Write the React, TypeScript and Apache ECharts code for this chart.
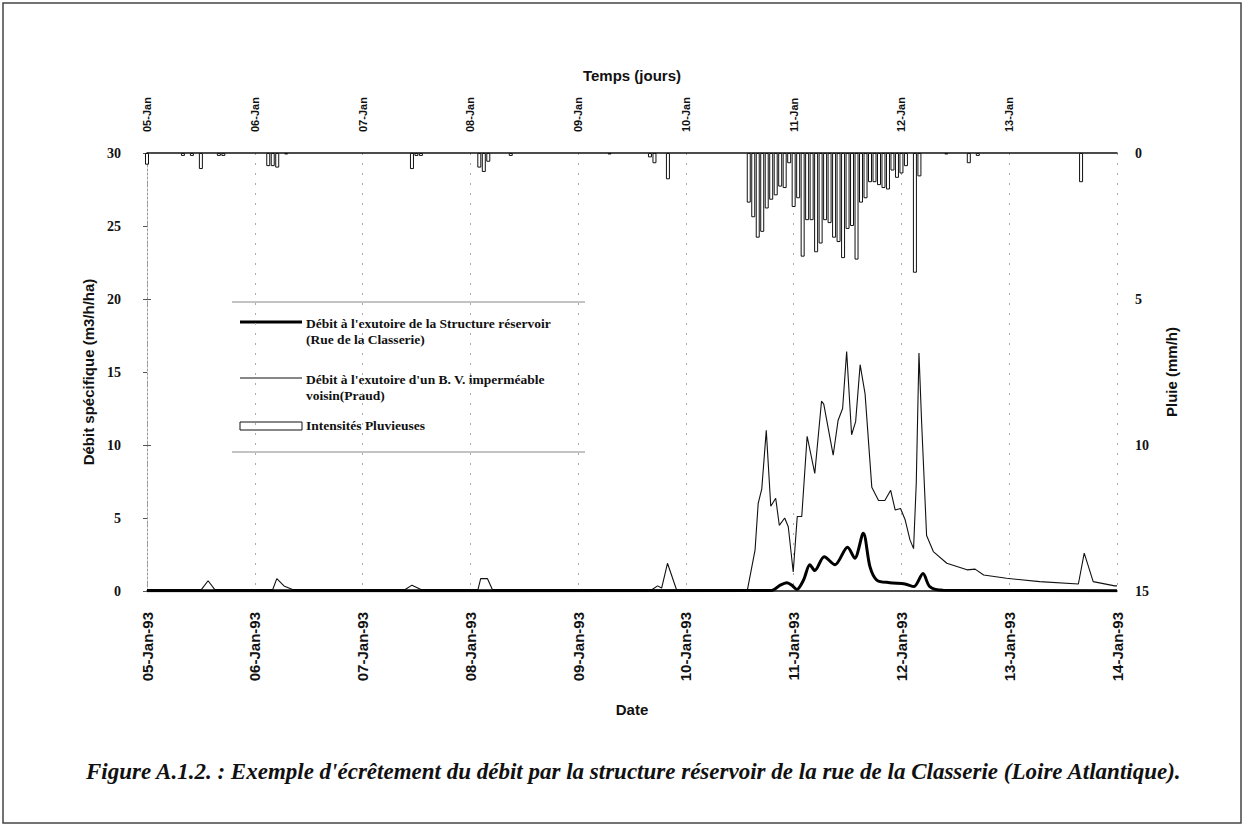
import React, { useEffect, useRef } from "react";
import * as echarts from "echarts";

// Tick labels (x positions in hours from 05-Jan-93 00:00)
const dateLabels = ["05-Jan-93", "06-Jan-93", "07-Jan-93", "08-Jan-93", "09-Jan-93", "10-Jan-93", "11-Jan-93", "12-Jan-93", "13-Jan-93", "14-Jan-93"];
const topLabels = ["05-Jan", "06-Jan", "07-Jan", "08-Jan", "09-Jan", "10-Jan", "11-Jan", "12-Jan", "13-Jan", ""];

// Débit à l'exutoire de la Structure réservoir (m3/h/ha) : [hour, value]
const reservoirFlow: [number, number][] = [
  [0, 0.02], [139.1, 0.03], [141, 0.4], [142.5, 0.57], [143.6, 0.4], [144.7, 0.1],
  [146.2, 0.75], [147.6, 1.8], [148.7, 1.4], [150.8, 2.35], [153.2, 1.8], [156.0, 3.0],
  [157.6, 2.25], [159.5, 3.95], [161.0, 1.65], [162.5, 0.75], [165.4, 0.57], [168.8, 0.48],
  [170.8, 0.3], [172.8, 1.2], [174.3, 0.3], [177.3, 0.05], [216, 0.02],
];

// Débit à l'exutoire d'un B. V. imperméable voisin (m3/h/ha) : [hour, value]
const imperviousFlow: [number, number][] = [
  [0, 0.1], [12.1, 0.1], [13.6, 0.7], [15.1, 0.1], [28.0, 0.1], [28.9, 0.85], [30.5, 0.35],
  [32.4, 0.1], [57.5, 0.1], [59.0, 0.4], [61.0, 0.1], [73.7, 0.1], [74.3, 0.85], [75.8, 0.85],
  [76.9, 0.1], [112.5, 0.1], [113.7, 0.35], [114.6, 0.2], [115.9, 1.9], [117.9, 0.1],
  [133.7, 0.07], [135.4, 2.8], [136.1, 6.0], [136.9, 7.0], [137.9, 11.0], [138.9, 5.8],
  [140.0, 6.35], [140.8, 4.5], [142.0, 5.0], [142.8, 4.4], [143.9, 1.3], [144.8, 5.1],
  [145.8, 5.1], [147.0, 10.6], [148.7, 8.05], [150.2, 13.0], [150.7, 12.8], [152.8, 9.3],
  [153.9, 11.7], [154.9, 12.5], [155.8, 16.4], [156.9, 10.7], [157.8, 11.6], [158.8, 15.5],
  [159.9, 13.5], [161.4, 7.1], [162.9, 6.2], [164.3, 6.2], [165.6, 6.9], [166.6, 5.55],
  [167.8, 5.65], [168.8, 4.9], [169.9, 3.5], [170.7, 2.9], [171.3, 7.4], [171.9, 16.3],
  [172.5, 11.5], [173.6, 3.8], [175.1, 2.7], [178.1, 1.9], [182.6, 1.45], [184.4, 1.5],
  [186.3, 1.1], [191.4, 0.87], [198.8, 0.64], [207.4, 0.48], [208.7, 2.6], [210.7, 0.64],
  [215.5, 0.35], [216, 0.35],
];

// Intensités pluvieuses (mm/h) : [hour, value]
const rainfall: [number, number][] = [
  [0, 0.4], [8, 0.1], [10, 0.1], [12, 0.55], [16, 0.1], [17, 0.1], [27, 0.45], [28, 0.45],
  [29, 0.5], [31, 0.05], [59, 0.55], [60, 0.1], [61, 0.1], [74, 0.5], [75, 0.65], [76, 0.3],
  [81, 0.1], [103, 0.05], [112, 0.15], [113, 0.35], [116, 0.9],
  [134, 1.7], [135, 2.2], [136, 2.9], [137, 2.7], [138, 1.9], [139, 1.6], [140, 1.45],
  [141, 1.15], [142, 1.2], [143, 0.35], [144, 1.85], [145, 1.55], [146, 3.55], [147, 2.3],
  [148, 2.3], [149, 3.4], [150, 3.1], [151, 2.3], [152, 2.4], [153, 2.9], [154, 3.05],
  [155, 3.6], [156, 2.6], [157, 2.5], [158, 3.65], [159, 1.7], [160, 1.55], [161, 1.0],
  [162, 1.0], [163, 1.1], [164, 1.2], [165, 1.25], [166, 0.6], [167, 0.85], [168, 0.7],
  [169, 0.45], [171, 4.1], [172, 0.8], [178, 0.05], [183, 0.35], [185, 0.1], [208, 1.0],
];

const seriesNames = [
  "Débit à l'exutoire de la Structure réservoir",
  "Débit à l'exutoire d'un B. V. imperméable",
  "Intensités Pluvieuses",
];

const SANS = "Liberation Sans, Arial, sans-serif";
const SERIF = "Liberation Serif, Times New Roman, serif";

export default function App() {
  const ref = useRef<HTMLDivElement>(null);
  useEffect(() => {
    if (!ref.current) return;
    const chart = echarts.init(ref.current, null, { renderer: "svg" });
    const dayLabel = (arr: string[]) => (v: number) => {
      const i = Math.round(v / 24);
      return Math.abs(v - i * 24) < 1e-6 ? arr[i] ?? "" : "";
    };
    chart.setOption({
      animation: false,
      backgroundColor: "#ffffff",
      grid: { left: 147, right: 127, top: 153, bottom: 235, containLabel: false },
      xAxis: [
        {
          type: "value", position: "bottom", min: 0, max: 216, interval: 24,
          name: "Date", nameLocation: "middle", nameGap: 111,
          nameTextStyle: { fontFamily: SANS, fontWeight: "bold", fontSize: 15, color: "#111" },
          axisLine: { show: true, lineStyle: { color: "#111", width: 1.5 } },
          axisTick: { show: false },
          axisLabel: { formatter: dayLabel(dateLabels), rotate: 90, margin: 21, fontFamily: SANS, fontWeight: "bold", fontSize: 15, color: "#111" },
          splitLine: { show: true, lineStyle: { color: "#aaa", type: [2, 8], width: 1 } },
        },
        {
          type: "value", position: "top", min: 0, max: 216, interval: 24,
          name: "Temps (jours)", nameLocation: "middle", nameGap: 70,
          nameTextStyle: { fontFamily: SANS, fontWeight: "bold", fontSize: 15, color: "#111" },
          axisLine: { show: true, lineStyle: { color: "#111", width: 1.5 } },
          axisTick: { show: false },
          axisLabel: { formatter: dayLabel(topLabels), rotate: 90, margin: 21, fontFamily: SANS, fontWeight: "bold", fontSize: 11, color: "#111" },
          splitLine: { show: false },
        },
      ],
      yAxis: [
        {
          type: "value", position: "left", min: 0, max: 30, interval: 5,
          name: "Débit spécifique (m3/h/ha)", nameLocation: "middle", nameGap: 49, nameRotate: 90,
          nameTextStyle: { fontFamily: SANS, fontWeight: "bold", fontSize: 15, color: "#111" },
          axisLine: { show: true, lineStyle: { color: "#999", type: [2, 6] } },
          axisTick: { show: true, inside: false, length: 4, lineStyle: { color: "#555" } },
          axisLabel: { margin: 26, fontFamily: SERIF, fontWeight: "bold", fontSize: 14, color: "#111" },
          splitLine: { show: false },
        },
        {
          type: "value", position: "right", min: 0, max: 15, interval: 5, inverse: true,
          name: "Pluie (mm/h)", nameLocation: "middle", nameGap: 47, nameRotate: 90,
          nameTextStyle: { fontFamily: SANS, fontWeight: "bold", fontSize: 15, color: "#111" },
          axisLine: { show: true, lineStyle: { color: "#999", type: [2, 6] } },
          axisTick: { show: true, inside: false, length: 4, lineStyle: { color: "#555" } },
          axisLabel: { margin: 18, fontFamily: SERIF, fontWeight: "bold", fontSize: 14, color: "#111" },
          splitLine: { show: false },
        },
      ],
      series: [
        {
          name: seriesNames[2], type: "bar", xAxisIndex: 0, yAxisIndex: 1, data: rainfall,
          barWidth: 4, itemStyle: { color: "#ffffff", borderColor: "#111", borderWidth: 1 },
        },
        {
          name: seriesNames[1], type: "line", xAxisIndex: 0, yAxisIndex: 0, data: imperviousFlow,
          showSymbol: false, lineStyle: { color: "#111", width: 1.1 },
        },
        {
          name: seriesNames[0], type: "line", xAxisIndex: 0, yAxisIndex: 0, data: reservoirFlow,
          showSymbol: false, smooth: 0.3, lineStyle: { color: "#000", width: 3 },
        },
      ],
      graphic: [
        { type: "rect", shape: { x: 3, y: 3, width: 1238, height: 820 }, style: { fill: "none", stroke: "#444", lineWidth: 1.5 }, silent: true },
        { type: "line", shape: { x1: 232, y1: 302, x2: 585, y2: 302 }, style: { stroke: "#888", lineWidth: 1 } },
        { type: "line", shape: { x1: 232, y1: 452, x2: 585, y2: 452 }, style: { stroke: "#888", lineWidth: 1 } },
        { type: "line", shape: { x1: 240, y1: 322, x2: 302, y2: 322 }, style: { stroke: "#000", lineWidth: 3 } },
        { type: "text", x: 306, y: 315, style: { text: seriesNames[0] + "\n(Rue de la Classerie)", font: "bold 13.5px " + SERIF, lineHeight: 16, fill: "#111" } },
        { type: "line", shape: { x1: 240, y1: 378, x2: 302, y2: 378 }, style: { stroke: "#111", lineWidth: 1.1 } },
        { type: "text", x: 306, y: 371, style: { text: seriesNames[1] + "\nvoisin(Praud)", font: "bold 13.5px " + SERIF, lineHeight: 16, fill: "#111" } },
        { type: "rect", shape: { x: 240, y: 422, width: 62, height: 8 }, style: { fill: "#fff", stroke: "#111", lineWidth: 1 } },
        { type: "text", x: 306, y: 418, style: { text: seriesNames[2], font: "bold 13.5px " + SERIF, fill: "#111" } },
        { type: "text", x: 86, y: 760, style: { text: "Figure A.1.2. : Exemple d'écrêtement du débit par la structure réservoir de la rue de la Classerie (Loire Atlantique).", font: "italic bold 23px " + SERIF, fill: "#111" } },
      ],
    });
    return () => chart.dispose();
  }, []);
  return <div ref={ref} style={{ position: "fixed", left: 0, top: 0, width: 1244, height: 826 }} />;
}
